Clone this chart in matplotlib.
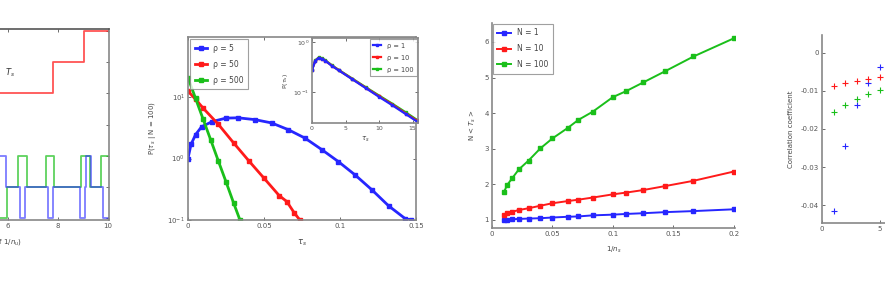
import numpy as np
import matplotlib
matplotlib.use("Agg")
import matplotlib.pyplot as plt

plt.rcParams['font.family'] = ['DejaVu Sans']
plt.rcParams['font.size'] = 5
plt.rcParams['axes.edgecolor'] = '#888888'
plt.rcParams['xtick.color'] = '#555555'
plt.rcParams['ytick.color'] = '#555555'
plt.rcParams['text.color'] = '#444444'
plt.rcParams['axes.labelcolor'] = '#444444'
plt.rcParams['mathtext.default'] = 'it'

BLUE = (0.15, 0.15, 1.0)
RED = (1.0, 0.1, 0.1)
GREEN = (0.1, 0.75, 0.1)

# panel 1: telegraph signals and staircase T_s
blue_t = [5.5, 5.92, 6.48, 6.68, 7.59, 7.79, 8.88, 9.08, 9.12, 9.35, 9.8, 10.0]
blue_lv = [2, 1, 0, 1, 0, 1, 0, 1, 2, 1, 0, 0]
green_t = [5.5, 5.97, 6.41, 6.75, 7.52, 7.84, 8.95, 9.31, 9.75, 10.0]
green_lv = [0, 1, 2, 1, 2, 1, 2, 1, 2, 2]
red_t = [0.0, 1.6, 3.3, 5.0, 7.8, 9.04, 10.0]
red_lv = [1, 2, 3, 4, 5, 6, 6]

# panel 2: distribution of tau_s
p2_labels = ['ρ = 5', 'ρ = 50', 'ρ = 500']
p2_blue_x = [0.0, 0.002, 0.005, 0.009, 0.016, 0.025, 0.033, 0.044, 0.055, 0.066,
             0.077, 0.088, 0.099, 0.110, 0.121, 0.132, 0.143, 0.147]
p2_blue_y = [1.0, 1.7, 2.45, 3.3, 4.0, 4.55, 4.6, 4.3, 3.8, 2.95,
             2.15, 1.4, 0.89, 0.54, 0.31, 0.17, 0.105, 0.1]
p2_red_x = [0.0, 0.005, 0.01, 0.02, 0.03, 0.04, 0.05, 0.06, 0.065, 0.07, 0.0736]
p2_red_y = [12.5, 9.2, 6.6, 3.6, 1.8, 0.92, 0.48, 0.25, 0.2, 0.13, 0.1]
p2_green_x = [0.0, 0.005, 0.01, 0.015, 0.02, 0.025, 0.03, 0.0342]
p2_green_y = [20.7, 9.5, 4.35, 2.0, 0.91, 0.42, 0.19, 0.1]

inset_labels = ['ρ = 1', 'ρ = 10', 'ρ = 100']
inset_x = [0.0, 0.5, 1.0, 1.5, 2.0, 3.0, 4.0, 6.0, 8.0, 10.0, 12.0, 14.0, 15.6]
inset_blue = [0.275, 0.42, 0.48, 0.46, 0.42, 0.33, 0.27, 0.18, 0.12, 0.08, 0.054, 0.036, 0.026]
inset_red = [0.28, 0.42, 0.48, 0.46, 0.42, 0.335, 0.272, 0.182, 0.122, 0.082, 0.056, 0.037, 0.027]
inset_green = [0.28, 0.43, 0.49, 0.47, 0.43, 0.34, 0.276, 0.186, 0.125, 0.085, 0.058, 0.039, 0.028]

# panel 3: N<T_s> vs 1/n_s
n_s = [100, 80, 60, 45, 33, 25, 20, 16, 14, 12, 10, 9, 8, 7, 6, 5]
p3_labels = ['N = 1', 'N = 10', 'N = 100']
p3_N1 = [1.0, 1.01, 1.02, 1.03, 1.04, 1.05, 1.07, 1.09, 1.10, 1.13, 1.15, 1.17, 1.19, 1.22, 1.25, 1.30]
p3_N10 = [1.14, 1.19, 1.23, 1.28, 1.33, 1.40, 1.47, 1.53, 1.57, 1.63, 1.72, 1.77, 1.84, 1.95, 2.10, 2.36]
p3_N100 = [1.79, 1.98, 2.17, 2.42, 2.67, 3.01, 3.29, 3.58, 3.81, 4.04, 4.45, 4.62, 4.86, 5.17, 5.59, 6.10]

# panel 4: correlation coefficient
p4_x = [1, 2, 3, 4, 5]
p4_blue = [-0.0415, -0.0245, -0.0137, -0.0078, -0.0037]
p4_red = [-0.0087, -0.0080, -0.0074, -0.0069, -0.0064]
p4_green = [-0.0155, -0.0137, -0.0121, -0.0108, -0.0097]

fig = plt.figure(figsize=(8.85, 2.88), dpi=100)


def style(ax, box=True):
    ax.tick_params(direction='in', length=2, width=0.6, pad=2,
                   top=box, right=box, labelsize=5)
    for s in ax.spines.values():
        s.set_linewidth(1.2)
    if not box:
        ax.spines['top'].set_visible(False)
        ax.spines['right'].set_visible(False)


def box_legend(leg):
    leg.get_frame().set_edgecolor('#888888')
    leg.get_frame().set_linewidth(0.8)


# ---- panel 1 (mostly outside the figure, only its right part shows)
ax1 = fig.add_axes([-0.1605, 0.2361, 0.2836, 0.6632])
ax1.step(red_t, red_lv, where='post', color=RED, lw=1.3, alpha=0.75)
ax1.step(green_t, green_lv, where='post', color=GREEN, lw=1.3, alpha=0.7)
ax1.step(blue_t, blue_lv, where='post', color=BLUE, lw=1.3, alpha=0.6)
ax1.set_xlim(0, 10.05)
ax1.set_ylim(-0.05, 6.05)
ax1.set_xticks([0, 2, 4, 6, 8, 10])
ax1.set_xticklabels(['', '', '', '6', '8', '10'])
ax1.set_yticks(range(7))
ax1.set_yticklabels([])
ax1.text(5.9, 4.55, '$T_s$', fontsize=6, color='#333333')
ax1.set_xlabel('Time (in units of 1/$n_u$)', fontsize=5, labelpad=6)
style(ax1)
ax1.spines['top'].set_color('#555555')

# ---- panel 2
ax2 = fig.add_axes([0.2124, 0.2361, 0.2576, 0.6354])
mk = dict(marker='s', ms=2.2, lw=2.0)
ax2.semilogy(p2_blue_x, p2_blue_y, color=BLUE, label=p2_labels[0], **mk)
ax2.semilogy(p2_red_x, p2_red_y, color=RED, label=p2_labels[1], **mk)
ax2.semilogy(p2_green_x, p2_green_y, color=GREEN, label=p2_labels[2], **mk)
ax2.set_xlim(0, 0.15)
ax2.set_ylim(0.1, 95)
ax2.set_xticks([0, 0.05, 0.1, 0.15])
ax2.set_xticklabels(['0', '0.05', '0.1', '0.15'])
ax2.set_xlabel('$\\tau_s$', fontsize=6, labelpad=6)
ax2.set_ylabel('P($\\tau_s$ | N = 100)', fontsize=5, labelpad=7)
ax2.minorticks_off()
style(ax2)
box_legend(ax2.legend(loc='upper left', fontsize=5.5, frameon=True, fancybox=False,
                      borderaxespad=0.3, handlelength=1.6, labelspacing=0.9,
                      borderpad=0.6))

axi = fig.add_axes([0.3525, 0.5729, 0.1198, 0.2951])
mk2 = dict(marker='s', ms=1.5, lw=1.6)
axi.semilogy(inset_x, inset_green, color=GREEN, label=inset_labels[2], **mk2)
axi.semilogy(inset_x, inset_red, color=RED, label=inset_labels[1], **mk2)
axi.semilogy(inset_x, inset_blue, color=BLUE, label=inset_labels[0], **mk2)
axi.set_xlim(0, 15.8)
axi.set_ylim(0.024, 1.2)
axi.set_xticks([0, 5, 10, 15])
axi.set_yticks([0.1, 1])
axi.minorticks_off()
axi.set_xlabel('$\\tau_s$', fontsize=5, labelpad=3)
axi.set_ylabel('P($\\tau_s$)', fontsize=4.5, labelpad=2)
style(axi)
axi.tick_params(labelsize=4.5)
h, l = axi.get_legend_handles_labels()
box_legend(axi.legend(h[::-1], l[::-1], loc='upper right', fontsize=4.8, frameon=True,
                      fancybox=False, borderaxespad=0.2, handlelength=1.2,
                      labelspacing=0.9, borderpad=0.5))

# ---- panel 3
ax3 = fig.add_axes([0.5559, 0.2083, 0.2746, 0.7118])
inv_n = 1.0 / np.array(n_s)
mk3 = dict(marker='s', ms=2.3, lw=1.4)
ax3.plot(inv_n, p3_N1, color=BLUE, label=p3_labels[0], **mk3)
ax3.plot(inv_n, p3_N10, color=RED, label=p3_labels[1], **mk3)
ax3.plot(inv_n, p3_N100, color=GREEN, label=p3_labels[2], **mk3)
ax3.set_xlim(0, 0.201)
ax3.set_ylim(0.775, 6.53)
ax3.set_xticks([0, 0.05, 0.1, 0.15, 0.2])
ax3.set_xticklabels(['0', '0.05', '0.1', '0.15', '0.2'])
ax3.set_yticks([1, 2, 3, 4, 5, 6])
ax3.set_xlabel('1/$n_s$', fontsize=5, labelpad=6)
ax3.set_ylabel('N < $T_s$ >', fontsize=5, labelpad=5)
style(ax3, box=False)
box_legend(ax3.legend(loc='upper left', fontsize=5.5, frameon=True, fancybox=False,
                      borderaxespad=0.1, handlelength=1.8, labelspacing=0.9,
                      borderpad=0.6))

# ---- panel 4 (cut at the right edge)
ax4 = fig.add_axes([0.9288, 0.2257, 0.2621, 0.6528])
ax4.plot(p4_x, p4_blue, '+', color=BLUE, ms=4, mew=0.8)
ax4.plot(p4_x, p4_red, '+', color=RED, ms=4, mew=0.8)
ax4.plot(p4_x, p4_green, '+', color=GREEN, ms=4, mew=0.8)
ax4.set_xlim(0, 20)
ax4.set_ylim(-0.0447, 0.0047)
ax4.set_xticks([0, 5, 10, 15, 20])
ax4.set_xticklabels(['0', '5', '', '', ''])
ax4.set_yticks([0, -0.01, -0.02, -0.03, -0.04])
ax4.set_yticklabels(['0', '-0.01', '-0.02', '-0.03', '-0.04'])
ax4.set_ylabel('Correlation coefficient', fontsize=5, labelpad=5)
style(ax4, box=False)

fig.savefig('out.png', dpi=100)
